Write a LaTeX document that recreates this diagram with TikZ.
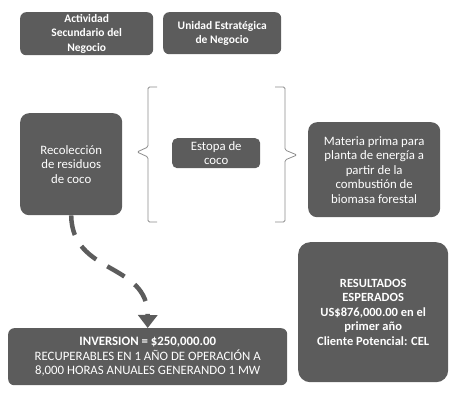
\documentclass[tikz,border=0pt]{standalone}
\usepackage{fontspec}
\setmainfont{Carlito}
\usetikzlibrary{arrows.meta}
\definecolor{cajagris}{HTML}{5C5C5C}
\definecolor{llavegris}{HTML}{8C8C8C}
\tikzset{
    caja/.style={fill=cajagris, rounded corners=9pt, text=white, align=center,
        anchor=north west, inner sep=2pt, font=\fontsize{12.8}{14.5}\selectfont},
    cajab/.style={caja, font=\fontsize{11.5}{14.5}\selectfont\bfseries},
    llave/.style={draw=llavegris, line width=0.8pt, rounded corners=1.5pt},
    flecha/.style={draw=cajagris, line width=4.5pt, dash pattern=on 20pt off 13pt,
        -{Triangle[length=13pt,width=19pt]}}
}
\begin{document}
\begin{tikzpicture}[x=1pt,y=-1pt]
    \useasboundingbox (0,0) rectangle (450,396);
    % cabecera
    \node[cajab, minimum width=133pt, minimum height=43pt, rounded corners=6pt] (act) at (20,12)
        {Actividad\\Secundario del\\Negocio};
    \node[cajab, minimum width=118pt, minimum height=42pt, rounded corners=6pt] (une) at (163,12)
        {Unidad Estratégica\\de Negocio};
    % fila central
    \node[caja, minimum width=102pt, minimum height=102pt] (rec) at (20,113)
        {Recolección\\de residuos\\de coco};
    \node[caja, minimum width=88pt, minimum height=30pt, rounded corners=5pt] (est) at (172,138)
        {Estopa de\\coco};
    \node[caja, minimum width=132pt, minimum height=95pt] (mat) at (308,122)
        {Materia prima para\\planta de energía a\\partir de la\\combustión de\\biomasa forestal};
    % llaves
    \draw[llave] (157,87) -- (148,87) -- (148,147) -- (137,152) -- (148,157) -- (148,222) -- (157,222);
    \draw[llave] (275,87) -- (285,87) -- (285,150) -- (297,155) -- (285,160) -- (285,222) -- (275,222);
    % resultados
    \node[cajab, font=\fontsize{12.5}{14.5}\selectfont\bfseries, minimum width=150pt,
        minimum height=140pt, rounded corners=12pt] (res) at (298,242)
        {RESULTADOS\\ESPERADOS\\US\$876,000.00 en el\\primer año\\Cliente Potencial: CEL};
    \node[caja, minimum width=279pt, minimum height=57pt, rounded corners=6pt] (inv) at (8,328)
        {\textbf{INVERSION = \$250,000.00}\\RECUPERABLES EN 1 AÑO DE OPERACIÓN A\\8,000 HORAS ANUALES GENERANDO 1 MW};
    \draw[flecha] (rec.south) .. controls (72,275) and (148,262) .. (inv.north);
\end{tikzpicture}
\end{document}
